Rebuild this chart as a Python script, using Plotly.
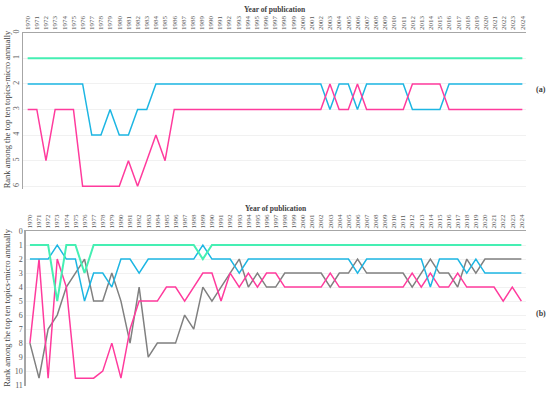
import plotly.graph_objects as go

years = list(range(1970, 2025))
year_labels = [str(y) for y in years]

# Panel (a)
a_green = [1, 1, 1, 1, 1, 1, 1, 1, 1, 1, 1, 1, 1, 1, 1, 1, 1, 1, 1, 1,
           1, 1, 1, 1, 1, 1, 1, 1, 1, 1, 1, 1, 1, 1, 1, 1, 1, 1, 1, 1,
           1, 1, 1, 1, 1, 1, 1, 1, 1, 1, 1, 1, 1, 1, 1]
a_blue = [2, 2, 2, 2, 2, 2, 2, 4, 4, 3, 4, 4, 3, 3, 2, 2, 2, 2, 2, 2,
          2, 2, 2, 2, 2, 2, 2, 2, 2, 2, 2, 2, 2, 3, 2, 2, 3, 2, 2, 2,
          2, 2, 3, 3, 3, 3, 2, 2, 2, 2, 2, 2, 2, 2, 2]
a_pink = [3, 3, 5, 3, 3, 3, 6, 6, 6, 6, 6, 5, 6, 5, 4, 5, 3, 3, 3, 3,
          3, 3, 3, 3, 3, 3, 3, 3, 3, 3, 3, 3, 3, 2, 3, 3, 2, 3, 3, 3,
          3, 3, 2, 2, 2, 2, 3, 3, 3, 3, 3, 3, 3, 3, 3]

# Panel (b)
b_green = [1, 1, 1, 5, 1, 1, 3, 1, 1, 1, 1, 1, 1, 1, 1, 1, 1, 1, 1, 2,
           1, 1, 1, 1, 1, 1, 1, 1, 1, 1, 1, 1, 1, 1, 1, 1, 1, 1, 1, 1,
           1, 1, 1, 1, 1, 1, 1, 1, 1, 1, 1, 1, 1, 1, 1]
b_blue = [2, 2, 2, 1, 2, 2, 5, 3, 3, 4, 2, 2, 3, 2, 2, 2, 2, 2, 2, 1,
          2, 2, 2, 3, 2, 2, 2, 2, 2, 2, 2, 2, 2, 2, 2, 2, 3, 2, 2, 2,
          2, 2, 2, 2, 4, 2, 2, 2, 3, 2, 3, 3, 3, 3, 3]
b_pink = [8, 2, 10.5, 2, 4, 10.5, 10.5, 10.5, 10, 8, 10.5, 7, 5, 5, 5, 4, 4, 5, 4, 3,
          3, 5, 3, 4, 3, 4, 3, 3, 4, 4, 4, 4, 4, 3, 4, 4, 4, 4, 4, 4,
          4, 4, 3, 4, 3, 4, 4, 3, 4, 4, 4, 4, 5, 4, 5]
b_gray = [8, 10.5, 7, 6, 4, 3, 2, 5, 5, 3, 5, 8, 4, 9, 8, 8, 8, 6, 7, 4,
          5, 4, 3, 2, 4, 3, 4, 4, 3, 3, 3, 3, 3, 4, 3, 3, 2, 3, 3, 3,
          3, 3, 4, 3, 2, 3, 3, 4, 2, 3, 2, 2, 2, 2, 2]

GREEN = "#45EFB3"
BLUE = "#1DB6E3"
PINK = "#FF3B9D"
GRAY = "#808080"
FONT = "Liberation Serif"
TXT = "#595959"

fig = go.Figure()

def add(x, y, color, xa, ya, width=1.5):
    fig.add_trace(go.Scatter(x=x, y=y, mode="lines", line=dict(color=color, width=width),
                             xaxis=xa, yaxis=ya, showlegend=False, hoverinfo="skip"))

add(years, a_green, GREEN, "x", "y", 2.0)
add(years, a_blue, BLUE, "x", "y")
add(years, a_pink, PINK, "x", "y")

add(years, b_gray, GRAY, "x2", "y2")
add(years, b_pink, PINK, "x2", "y2")
add(years, b_blue, BLUE, "x2", "y2")
add(years, b_green, GREEN, "x2", "y2", 2.0)

W, H = 550, 397

xcommon = dict(tickvals=years, ticktext=year_labels, tickangle=-90, side="top",
               tickfont=dict(family=FONT, size=7, color=TXT), showgrid=False,
               zeroline=False, showline=True, linecolor="#a6a6a6", linewidth=1.2,
               ticks="", fixedrange=True)
ycommon = dict(showgrid=True, gridcolor="#f1f1f1", gridwidth=1, zeroline=False,
               showline=True, linecolor="#a6a6a6", linewidth=1.2, ticks="",
               tickfont=dict(family=FONT, size=8, color=TXT), fixedrange=True)

fig.update_layout(
    width=W, height=H,
    margin=dict(l=0, r=0, t=0, b=0),
    paper_bgcolor="white", plot_bgcolor="white",
    hovermode=False,
    xaxis=dict(domain=[23.3 / W, 526.7 / W], range=[1969.52, 2024.37], anchor="y", **xcommon),
    yaxis=dict(domain=[1 - 188.6 / H, 1 - 29.3 / H], range=[6.1, 0], anchor="x",
               tickvals=list(range(0, 7)), tickangle=-90, **ycommon),
    xaxis2=dict(domain=[25.7 / W, 526.7 / W], range=[1969.53, 2024.48], anchor="y2", **xcommon),
    yaxis2=dict(domain=[1 - 389.7 / H, 1 - 231.7 / H], range=[11.05, 0], anchor="x2",
                tickvals=list(range(0, 12)), **ycommon),
)

ann = [
    dict(text="<b>Year of publication</b>", x=275 / W, y=1 - 5.7 / H, font=dict(size=7.5)),
    dict(text="<b>Year of publication</b>", x=277 / W, y=1 - 208.3 / H, font=dict(size=7.5)),
    dict(text="Rank among the top ten topics-micro annually", x=7 / W, y=1 - 107.5 / H,
         textangle=-90, font=dict(size=8.5)),
    dict(text="Rank among the top ten topics-micro annually", x=7 / W, y=1 - 310 / H,
         textangle=-90, font=dict(size=8.5)),
    dict(text="<b>(a)</b>", x=542 / W, y=1 - 87.7 / H, font=dict(size=8)),
    dict(text="<b>(b)</b>", x=542 / W, y=1 - 315.7 / H, font=dict(size=8)),
]
for a in ann:
    f = dict(family=FONT, color="#404040")
    f.update(a.pop("font"))
    fig.add_annotation(xref="paper", yref="paper", showarrow=False, xanchor="center",
                       yanchor="middle", font=f, **a)

fig.write_html("out.html", config={"displayModeBar": False, "staticPlot": True},
               post_script="document.body.style.margin='0';document.body.style.overflow='hidden';")
